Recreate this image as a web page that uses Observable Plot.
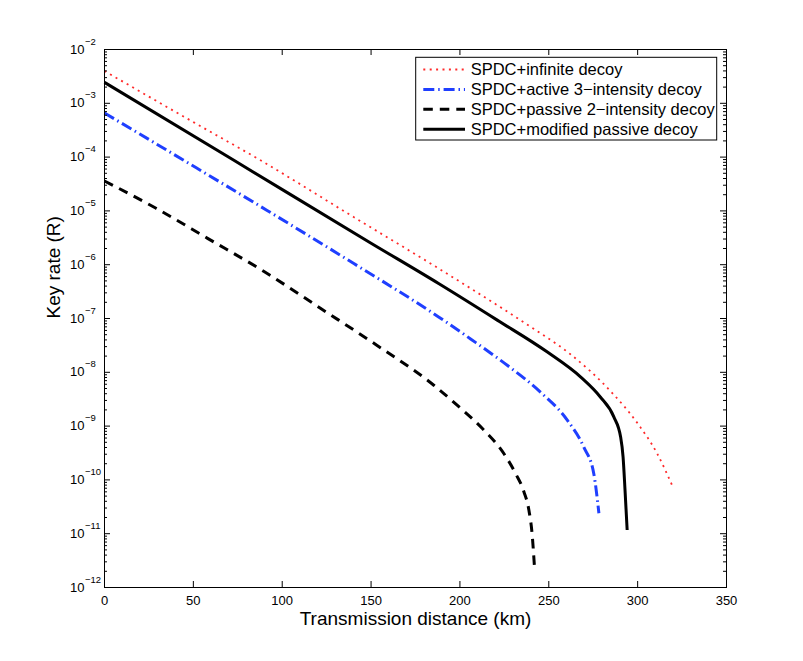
<!DOCTYPE html>
<html>
<head>
<meta charset="utf-8">
<script src="https://cdn.jsdelivr.net/npm/d3@7"></script>
<script src="https://cdn.jsdelivr.net/npm/@observablehq/plot@0.6"></script>
<style>
  body { margin: 0; background: #fff; }
  #chart { width: 803px; height: 661px; }
</style>
</head>
<body>
<div id="chart"></div>
<script>
// ---- Data ----
const seriesNames = [
  "SPDC+infinite decoy",
  "SPDC+active 3\u2212intensity decoy",
  "SPDC+passive 2\u2212intensity decoy",
  "SPDC+modified passive decoy"
];

const distInfinite = [0, 50, 87.8, 140, 188, 206, 240, 262, 285, 300, 311, 319.4];
const rateInfinite = [3.98e-3, 4.47e-4, 8.71e-5, 7.76e-6, 8.51e-7, 3.63e-7, 6.92e-8, 2.19e-8, 4.37e-9, 1.12e-9, 3.09e-10, 7.94e-11];

const distActive3 = [0, 44.6, 91.5, 140.3, 188, 206, 227, 245, 260.4, 269.7, 275.3, 278.2];
const rateActive3 = [6.61e-4, 8.71e-5, 1.02e-5, 1.05e-6, 1.07e-7, 4.17e-8, 1.32e-8, 4.37e-9, 1.29e-9, 4.07e-10, 1.32e-10, 2.40e-11];

const distPassive2 = [0, 29, 58, 90, 121.5, 153.4, 185.3, 199.4, 212.5, 224.7, 231.3, 236, 238.8, 240.6, 242];
const ratePassive2 = [3.6e-5, 1.12e-5, 3.09e-6, 7.41e-7, 1.55e-7, 3.16e-8, 5.75e-9, 2.29e-9, 9.12e-10, 3.09e-10, 1.32e-10, 6.03e-11, 2.75e-11, 1.0e-11, 2.24e-12];

const distModified = [0, 72.8, 150, 188, 221, 249, 268, 279, 286.6, 290.4, 291.8, 292.9, 294.1];
const rateModified = [2.45e-3, 8.71e-5, 2.51e-6, 4.47e-7, 9.33e-8, 2.40e-8, 8.13e-9, 3.47e-9, 1.48e-9, 6.31e-10, 2.69e-10, 6.46e-11, 1.17e-11];

const xTicks = [0, 50, 100, 150, 200, 250, 300, 350];
const yExponents = [-12, -11, -10, -9, -8, -7, -6, -5, -4, -3, -2];

// ---- Layout ----
const W = 803, H = 661;
const mL = 104, mR = 77, mT = 49, mB = 74;
const fw = W - mL - mR, fh = H - mT - mB;
const FONT = "'Liberation Sans', Arial, Helvetica, sans-serif";

const rows = (xs, rs) => xs.map((x, i) => ({x, r: rs[i]}));

const styles = [
  {stroke: "#ff2a2a", strokeWidth: 1.8, strokeDasharray: "2,4.4"},
  {stroke: "#1f3fff", strokeWidth: 3, strokeDasharray: "11,3.9,1.5,3.9"},
  {stroke: "#000000", strokeWidth: 3, strokeDasharray: "9.5,7"},
  {stroke: "#000000", strokeWidth: 3, strokeDasharray: null}
];

const majorY = yExponents.map(e => Math.pow(10, e));
const minorY = [];
yExponents.slice(0, -1).forEach(e => {
  for (let k = 2; k <= 9; k++) minorY.push(k * Math.pow(10, e));
});

const seriesData = [
  rows(distInfinite, rateInfinite),
  rows(distActive3, rateActive3),
  rows(distPassive2, ratePassive2),
  rows(distModified, rateModified)
];

const lineMarks = seriesData.map((d, i) => Plot.line(d, {
  x: "x", y: "r", curve: "monotone-x",
  stroke: styles[i].stroke, strokeWidth: styles[i].strokeWidth,
  strokeDasharray: styles[i].strokeDasharray, strokeLinecap: "butt"
}));

const chart = Plot.plot({
  width: W, height: H,
  marginLeft: mL, marginRight: mR, marginTop: mT, marginBottom: mB,
  style: {fontFamily: FONT, background: "white", color: "black"},
  x: {domain: [0, 350], axis: null},
  y: {type: "log", domain: [1e-12, 1e-2], axis: null},
  marks: [
    ...lineMarks,
    // inward ticks
    Plot.tickY(majorY, {y: d => d, insetRight: fw - 6, stroke: "black"}),
    Plot.tickY(majorY, {y: d => d, insetLeft: fw - 6, stroke: "black"}),
    Plot.tickY(minorY, {y: d => d, insetRight: fw - 3, stroke: "black"}),
    Plot.tickY(minorY, {y: d => d, insetLeft: fw - 3, stroke: "black"}),
    Plot.tickX(xTicks, {x: d => d, insetTop: fh - 6, stroke: "black"}),
    Plot.tickX(xTicks, {x: d => d, insetBottom: fh - 6, stroke: "black"}),
    Plot.frame({stroke: "black", strokeWidth: 1}),
    // tick labels
    Plot.text(xTicks, {x: d => d, frameAnchor: "bottom", dy: 13, lineAnchor: "middle",
      text: d => String(d), fontSize: 13, fill: "black"}),
    Plot.text(yExponents, {y: e => Math.pow(10, e), frameAnchor: "left", dx: -20,
      textAnchor: "end", lineAnchor: "middle", text: () => "10", fontSize: 13, fill: "black"}),
    Plot.text(yExponents, {y: e => Math.pow(10, e), frameAnchor: "left", dx: -19.5, dy: -8,
      textAnchor: "start", lineAnchor: "middle", text: e => "\u2212" + Math.abs(e), fontSize: 9.5, fill: "black"}),
    // axis titles
    Plot.text(["Transmission distance (km)"], {frameAnchor: "bottom", dy: 31, lineAnchor: "middle",
      text: d => d, fontSize: 19, fill: "black"}),
    Plot.text(["Key rate (R)"], {frameAnchor: "left", dx: -51, rotate: -90, lineAnchor: "middle",
      text: d => d, fontSize: 19, fill: "black"})
  ]
});

// ---- Legend (inside the plot area, top right) ----
const svg = d3.select(chart);
const lg = svg.append("g").attr("font-family", FONT).attr("text-anchor", "start");
const box = {x: 415.7, y: 57.3, w: 301, h: 82.7};
lg.append("rect").attr("x", box.x).attr("y", box.y).attr("width", box.w).attr("height", box.h)
  .attr("fill", "white").attr("stroke", "black").attr("stroke-width", 1);
const rowY0 = 69.5, rowStep = 19.9;
seriesNames.forEach((name, i) => {
  const yy = rowY0 + i * rowStep;
  const ln = lg.append("line").attr("x1", 423.3).attr("x2", 465).attr("y1", yy).attr("y2", yy)
    .attr("stroke", styles[i].stroke).attr("stroke-width", styles[i].strokeWidth);
  if (styles[i].strokeDasharray) ln.attr("stroke-dasharray", styles[i].strokeDasharray);
  lg.append("text").attr("x", 470.7).attr("y", yy).attr("dy", "0.35em")
    .attr("text-anchor", "start")
    .attr("font-size", 16.5).attr("fill", "black").text(name);
});

document.getElementById("chart").appendChild(chart);
</script>
</body>
</html>
